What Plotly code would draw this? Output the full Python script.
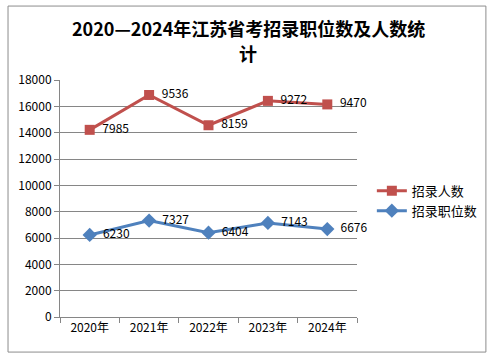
import plotly.graph_objects as go

years = ["2020年", "2021年", "2022年", "2023年", "2024年"]
positions = [6230, 7327, 6404, 7143, 6676]   # 招录职位数
people = [7985, 9536, 8159, 9272, 9470]      # 招录人数 (stacked on top)

stacked_people = [a + b for a, b in zip(positions, people)]

font_family = "Noto Sans CJK SC, Noto Sans, sans-serif"

fig = go.Figure()
fig.add_trace(go.Scatter(
    x=years, y=stacked_people, name="招录人数",
    mode="lines+markers+text", cliponaxis=False,
    line=dict(color="#C0504D", width=3),
    marker=dict(symbol="square", size=10, color="#C0504D"),
    text=["  " + str(v) for v in people], textposition="middle right",
    textfont=dict(size=12, color="#000000"),
))
fig.add_trace(go.Scatter(
    x=years, y=positions, name="招录职位数",
    mode="lines+markers+text", cliponaxis=False,
    line=dict(color="#4F81BD", width=3),
    marker=dict(symbol="diamond", size=11, color="#4F81BD"),
    text=["  " + str(v) for v in positions], textposition="middle right",
    textfont=dict(size=12, color="#000000"),
))

fig.update_layout(
    width=495, height=359,
    margin=dict(l=60, r=138, t=80, b=42),
    paper_bgcolor="white", plot_bgcolor="white",
    font=dict(family=font_family, size=12, color="#000000"),
    showlegend=True,
    legend=dict(x=1.05, y=0.49, xanchor="left", yanchor="middle",
                font=dict(size=13), bgcolor="rgba(0,0,0,0)", itemwidth=30),
    xaxis=dict(type="category", range=[-0.5, 4.5], showgrid=False,
               showline=True, linecolor="#868686", linewidth=1,
               ticks="outside", tickson="boundaries", ticklen=5, tickcolor="#868686",
               tickfont=dict(size=12)),
    yaxis=dict(range=[0, 18000], dtick=2000, tickformat="d", showgrid=True,
               gridcolor="#868686", gridwidth=1, showline=True,
               linecolor="#868686", linewidth=1,
               ticks="outside", ticklen=5, tickcolor="#868686",
               zeroline=False, tickfont=dict(size=12)),
    annotations=[
        dict(text="<b>2020—2024年江苏省考招录职位数及人数统</b>", xref="paper", yref="paper",
             x=(248 - 60) / 297, y=(317 - 28) / 237, xanchor="center", yanchor="middle",
             showarrow=False, font=dict(size=18, family=font_family)),
        dict(text="<b>计</b>", xref="paper", yref="paper",
             x=(248 - 60) / 297, y=(317 - 53) / 237, xanchor="center", yanchor="middle",
             showarrow=False, font=dict(size=18, family=font_family)),
    ],
    shapes=[dict(type="rect", xref="paper", yref="paper",
                 x0=-0.175, x1=1.434, y0=-0.148, y1=1.312,
                 fillcolor="rgba(0,0,0,0)",
                 line=dict(color="#8C8C8C", width=1), layer="above")],
)

fig.write_html("out.html", config={"displayModeBar": False},
               post_script="document.body.style.margin='0';")
